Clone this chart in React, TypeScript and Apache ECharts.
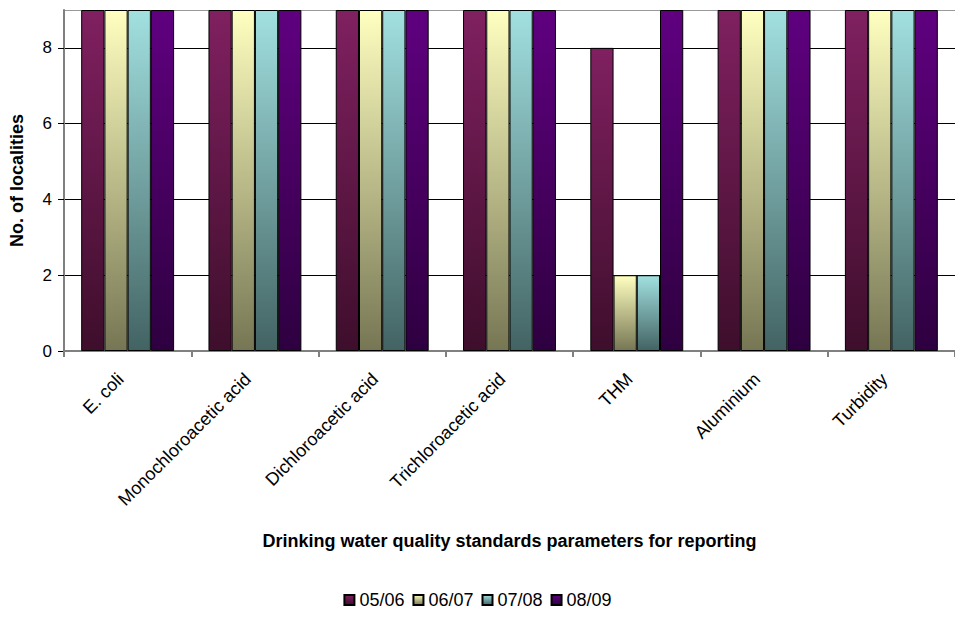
import React, { useEffect, useRef } from "react";
import * as echarts from "echarts";

const categories = [
  "E. coli",
  "Monochloroacetic acid",
  "Dichloroacetic acid",
  "Trichloroacetic acid",
  "THM",
  "Aluminium",
  "Turbidity",
];
const seriesNames = ["05/06", "06/07", "07/08", "08/09"];
const values0506 = [9, 9, 9, 9, 8, 9, 9];
const values0607 = [9, 9, 9, 9, 2, 9, 9];
const values0708 = [9, 9, 9, 9, 2, 9, 9];
const values0809 = [9, 9, 9, 9, 9, 9, 9];
const gradientTops = ["#802060", "#ffffc0", "#a2e0e0", "#600080"];
const gradientBottoms = ["#3e0e2c", "#767654", "#436363", "#2e0040"];

const FONT = "'Liberation Sans', Arial, sans-serif";

export default function App() {
  const ref = useRef<HTMLDivElement>(null);
  useEffect(() => {
    if (!ref.current) return;
    const chart = echarts.init(ref.current, null, { renderer: "svg" });
    const allValues = [values0506, values0607, values0708, values0809];
    chart.setOption({
      animation: false,
      backgroundColor: "#ffffff",
      textStyle: { fontFamily: FONT },
      grid: { left: 63, top: 10, width: 900, height: 341, containLabel: false },
      legend: {
        data: seriesNames,
        bottom: 3,
        left: "center",
        icon: "rect",
        itemWidth: 10,
        itemHeight: 10,
        itemGap: 8,
        textStyle: { fontSize: 18, color: "#000", fontFamily: FONT },
      },
      xAxis: {
        type: "category",
        data: categories,
        name: "Drinking water quality standards parameters for reporting",
        nameLocation: "middle",
        nameGap: 181,
        nameTextStyle: { fontSize: 18, fontWeight: "bold", color: "#000", fontFamily: FONT },
        axisLine: { lineStyle: { color: "#808080", width: 2 } },
        axisTick: { show: true, length: 6, lineStyle: { color: "#808080", width: 2 } },
        axisLabel: {
          interval: 0,
          rotate: 45,
          margin: 18,
          padding: [0, 10, 0, 0],
          fontSize: 18,
          color: "#000",
          fontFamily: FONT,
        },
        splitLine: { show: false },
      },
      yAxis: {
        type: "value",
        min: 0,
        max: 9,
        interval: 2,
        name: "No. of localities",
        nameLocation: "middle",
        nameGap: 38,
        nameTextStyle: { fontSize: 18, fontWeight: "bold", color: "#000", fontFamily: FONT },
        axisLine: { show: true, lineStyle: { color: "#808080", width: 2 } },
        axisTick: { show: true, length: 6, lineStyle: { color: "#000", width: 1 } },
        axisLabel: {
          margin: 12,
          fontSize: 17,
          color: "#000",
          fontFamily: FONT,
          showMaxLabel: false,
          formatter: (v: number) => (v === 9 ? "" : String(v)),
        },
        splitLine: {
          show: true,
          lineStyle: { color: ["#000", "#000", "#000", "#000", "#000", "#999"], width: 1 },
        },
      },
      series: seriesNames.map((name, i) => ({
        name,
        type: "bar",
        data: allValues[i],
        barGap: "0%",
        barCategoryGap: "27%",
        itemStyle: {
          color: new echarts.graphic.LinearGradient(0, 0, 0, 1, [
            { offset: 0, color: gradientTops[i] },
            { offset: 1, color: gradientBottoms[i] },
          ]),
          borderColor: "#000",
          borderWidth: 1,
        },
      })),
    });
    return () => chart.dispose();
  }, []);
  return (
    <div
      ref={ref}
      style={{ position: "fixed", left: 0, top: 0, width: 955, height: 617, background: "#fff" }}
    />
  );
}
